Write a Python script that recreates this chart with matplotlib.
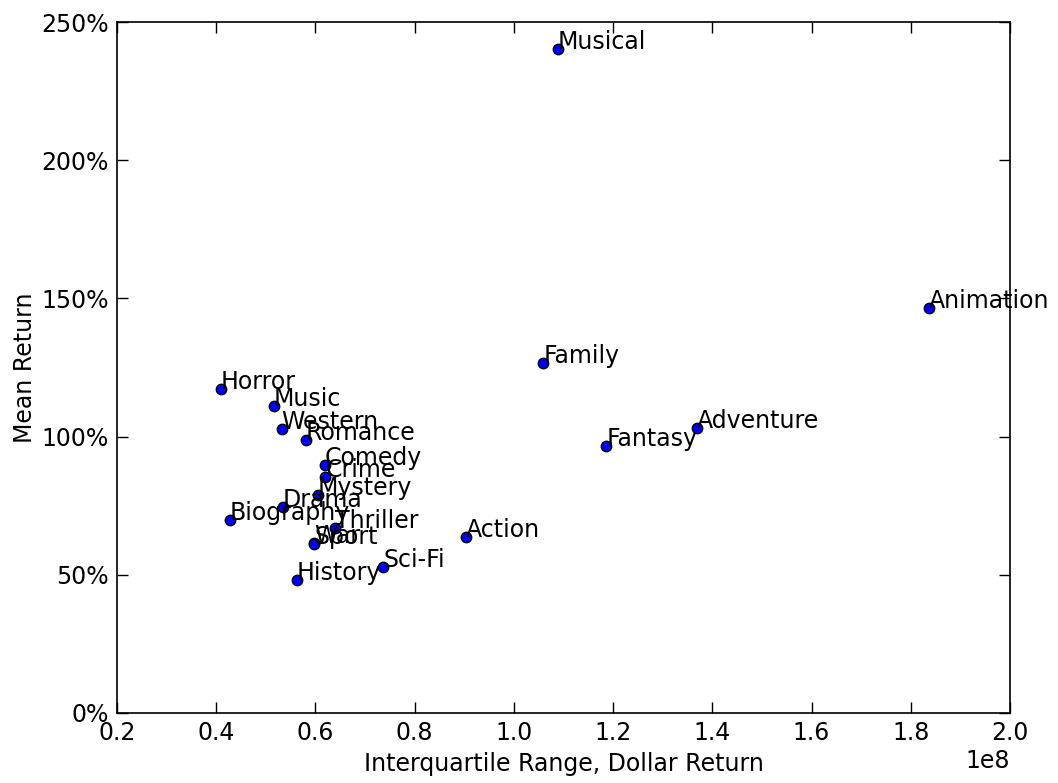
import matplotlib
matplotlib.use("Agg")
import matplotlib.pyplot as plt
from matplotlib.ticker import FuncFormatter

genres = ["Musical", "Animation", "Family", "Horror", "Music", "Western", "Romance",
          "Comedy", "Crime", "Mystery", "Drama", "Biography", "Thriller", "War", "Sport",
          "History", "Sci-Fi", "Action", "Fantasy", "Adventure"]
iqr = [1.089e8, 1.837e8, 1.059e8, 0.409e8, 0.516e8, 0.532e8, 0.581e8,
       0.619e8, 0.620e8, 0.605e8, 0.534e8, 0.428e8, 0.639e8, 0.597e8, 0.598e8,
       0.562e8, 0.737e8, 0.903e8, 1.186e8, 1.369e8]
mean_return = [2.402, 1.465, 1.266, 1.172, 1.111, 1.026, 0.987,
               0.898, 0.854, 0.789, 0.746, 0.697, 0.670, 0.614, 0.612,
               0.480, 0.527, 0.637, 0.966, 1.031]

plt.rcParams['font.family'] = ['DejaVu Sans']
fig = plt.figure(figsize=(10.58, 7.83), dpi=100, facecolor='white')
ax = fig.add_axes([0.1106, 0.0894, 0.8440, 0.8825])

ax.plot(iqr, mean_return, 'o', color='blue', markeredgecolor='black',
        markeredgewidth=1.0, markersize=7.5, zorder=3)
for name, x, y in zip(genres, iqr, mean_return):
    ax.text(x, y, name, fontsize=17, ha='left', va='baseline', zorder=4)

ax.set_xlim(0.2e8, 2.0e8)
ax.set_ylim(0, 2.5)
ax.set_xticks([0.2e8 + 0.2e8 * i for i in range(10)])
ax.set_yticks([0, 0.5, 1.0, 1.5, 2.0, 2.5])
ax.yaxis.set_major_formatter(FuncFormatter(lambda v, p: '%d%%' % round(v * 100)))

ax.tick_params(direction='in', top=True, right=True, labelsize=17, length=8, width=1, pad=6)
ax.xaxis.get_offset_text().set_fontsize(17)
for s in ax.spines.values():
    s.set_linewidth(1.2)

ax.set_xlabel("Interquartile Range, Dollar Return", fontsize=17, labelpad=5)
ax.set_ylabel("Mean Return", fontsize=17, labelpad=3)

fig.savefig("out.png", dpi=100, facecolor='white')
